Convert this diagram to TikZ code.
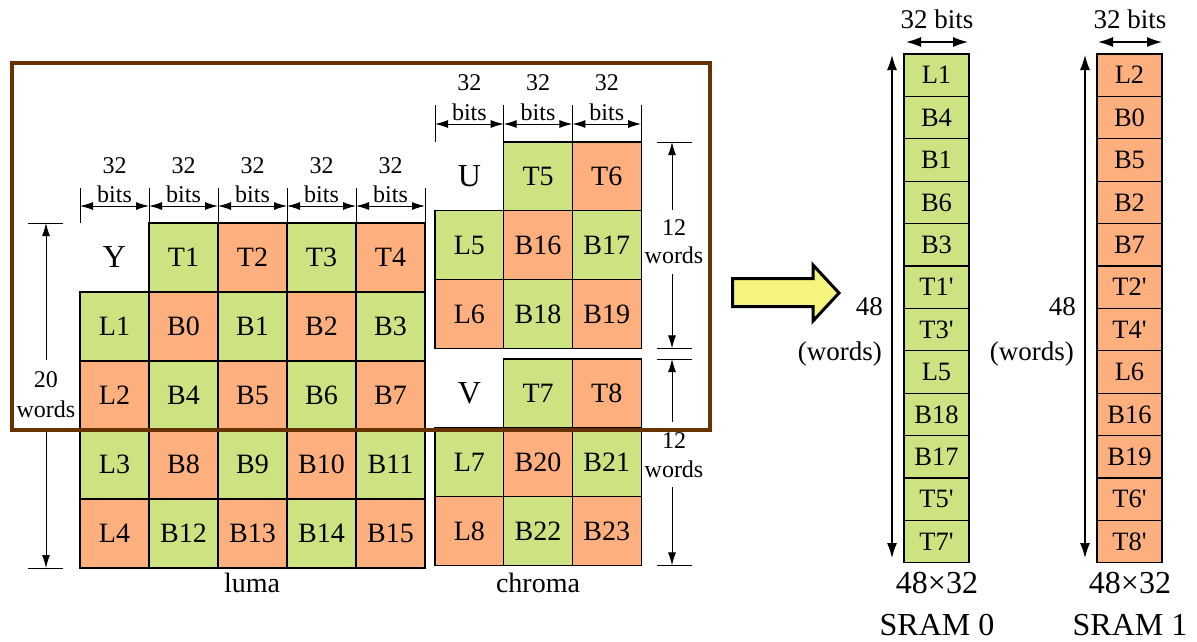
\documentclass[tikz,border=0pt]{standalone}
\usepackage{fontspec}
\setmainfont{Liberation Serif}[Ligatures=TeXOff]
\usetikzlibrary{arrows.meta}

\definecolor{cellgreen}{HTML}{CDE382}
\definecolor{cellorange}{HTML}{FDB07E}
\definecolor{framebrown}{HTML}{663300}
\definecolor{arrowyellow}{HTML}{F5F57D}

\newcommand{\fsz}[1]{\fontsize{#1}{#1}\selectfont}

\begin{document}
\begin{tikzpicture}[x=1pt, y=-1pt,
  cell/.style={draw=black, line width=1.2pt, inner sep=0pt,
    minimum width=68.9pt, minimum height=68.9pt, font=\fsz{28}},
  ccell/.style={cell, minimum width=68.7pt, minimum height=68.8pt},
  scell/.style={draw=black, line width=1.2pt, inner sep=0pt,
    minimum width=65pt, minimum height=42.4pt, font=\fsz{26.5}},
  plane/.style={inner sep=0pt, font=\fsz{32}},
  dimtxt/.style={inner sep=0pt, anchor=base, font=\fsz{24}},
  captxt/.style={inner sep=0pt, anchor=base, font=\fsz{28}},
  sramtxt/.style={inner sep=0pt, anchor=base, font=\fsz{32}},
  sramdim/.style={inner sep=0pt, font=\fsz{27}},
  tick/.style={line width=1pt},
  dimarrow/.style={line width=1pt, -{Latex[length=13pt,width=8pt]}},
  dimboth/.style={line width=1pt, {Latex[length=13pt,width=8pt]}-{Latex[length=13pt,width=8pt]}},
  bigboth/.style={line width=1.3pt, {Latex[length=15pt,width=10pt]}-{Latex[length=15pt,width=10pt]}},
]
\useasboundingbox (0,0) rectangle (1197,641);

% ---------------- luma block ----------------
\foreach \c/\r/\t/\f in {
  1/0/T1/cellgreen, 2/0/T2/cellorange, 3/0/T3/cellgreen, 4/0/T4/cellorange,
  0/1/L1/cellgreen, 1/1/B0/cellorange, 2/1/B1/cellgreen, 3/1/B2/cellorange, 4/1/B3/cellgreen,
  0/2/L2/cellorange, 1/2/B4/cellgreen, 2/2/B5/cellorange, 3/2/B6/cellgreen, 4/2/B7/cellorange,
  0/3/L3/cellgreen, 1/3/B8/cellorange, 2/3/B9/cellgreen, 3/3/B10/cellorange, 4/3/B11/cellgreen,
  0/4/L4/cellorange, 1/4/B12/cellgreen, 2/4/B13/cellorange, 3/4/B14/cellgreen, 4/4/B15/cellorange}
  \node[cell, fill=\f] (\t) at ({114.5+69*\c},{257.5+69*\r}) {\t};
\node[plane] (Y) at (114.5,257.5) {Y};

% column widths above the luma block
\foreach \i in {0,...,5} {
  \coordinate (lt\i) at ({80+69*\i},188);
  \coordinate (lb\i) at ({80+69*\i},223);
  \coordinate (la\i) at ({80+69*\i},206);
  \draw[tick] (lt\i) -- (lb\i);
}
\foreach \i [evaluate=\i as \j using int(\i+1)] in {0,...,4} {
  \draw[dimboth] (la\i) -- (la\j);
  \node[dimtxt] (l32\i) at ({114.5+69*\i},173) {32};
  \node[dimtxt] (lbits\i) at ({114.5+69*\i},202) {bits};
}

% luma height
\coordinate (lht0) at (28,223);  \coordinate (lht1) at (63,223);
\coordinate (lhb0) at (28,568);  \coordinate (lhb1) at (63,568);
\draw[tick] (lht0) -- (lht1);
\draw[tick] (lhb0) -- (lhb1);
\coordinate (lh1) at (46,360); \coordinate (lh2) at (46,223);
\coordinate (lh3) at (46,430); \coordinate (lh4) at (46,568);
\draw[dimarrow] (lh1) -- (lh2);
\draw[dimarrow] (lh3) -- (lh4);
\node[dimtxt] (l20) at (46,387) {20};
\node[dimtxt] (lwords) at (46,417) {words};
\node[captxt] (luma) at (252,592) {luma};

% ---------------- chroma blocks ----------------
\foreach \c/\r/\t/\f in {
  1/0/T5/cellgreen, 2/0/T6/cellorange,
  0/1/L5/cellgreen, 1/1/B16/cellorange, 2/1/B17/cellgreen,
  0/2/L6/cellorange, 1/2/B18/cellgreen, 2/2/B19/cellorange}
  \node[ccell, fill=\f] (\t) at ({469.35+68.7*\c},{176.4+68.8*\r}) {\t};
\node[plane] (U) at (469.35,176.4) {U};

\foreach \c/\r/\t/\f in {
  1/0/T7/cellgreen, 2/0/T8/cellorange,
  0/1/L7/cellgreen, 1/1/B20/cellorange, 2/1/B21/cellgreen,
  0/2/L8/cellorange, 1/2/B22/cellgreen, 2/2/B23/cellorange}
  \node[ccell, fill=\f] (\t) at ({469.35+68.7*\c},{393.4+68.8*\r}) {\t};
\node[plane] (V) at (469.35,393.4) {V};

% column widths above the chroma blocks
\foreach \i in {0,...,3} {
  \coordinate (ct\i) at ({435+68.7*\i},105);
  \coordinate (cb\i) at ({435+68.7*\i},142);
  \coordinate (ca\i) at ({435+68.7*\i},124);
  \draw[tick] (ct\i) -- (cb\i);
}
\foreach \i [evaluate=\i as \j using int(\i+1)] in {0,...,2} {
  \draw[dimboth] (ca\i) -- (ca\j);
  \node[dimtxt] (c32\i) at ({469.35+68.7*\i},90) {32};
  \node[dimtxt] (cbits\i) at ({469.35+68.7*\i},120) {bits};
}

% U height
\coordinate (uht0) at (657,142);   \coordinate (uht1) at (692,142);
\coordinate (uhb0) at (657,348.4); \coordinate (uhb1) at (692,348.4);
\draw[tick] (uht0) -- (uht1);
\draw[tick] (uhb0) -- (uhb1);
\coordinate (uh1) at (672,210); \coordinate (uh2) at (672,142);
\coordinate (uh3) at (672,274); \coordinate (uh4) at (672,348.4);
\draw[dimarrow] (uh1) -- (uh2);
\draw[dimarrow] (uh3) -- (uh4);
\node[dimtxt] (u12) at (674,235) {12};
\node[dimtxt] (uwords) at (674,263) {words};

% V height
\coordinate (vht0) at (657,359);   \coordinate (vht1) at (692,359);
\coordinate (vhb0) at (657,565.4); \coordinate (vhb1) at (692,565.4);
\draw[tick] (vht0) -- (vht1);
\draw[tick] (vhb0) -- (vhb1);
\coordinate (vh1) at (672,422); \coordinate (vh2) at (672,359);
\coordinate (vh3) at (672,487); \coordinate (vh4) at (672,565.4);
\draw[dimarrow] (vh1) -- (vh2);
\draw[dimarrow] (vh3) -- (vh4);
\node[dimtxt] (v12) at (674,448) {12};
\node[dimtxt] (vwords) at (674,477) {words};
\node[captxt] (chroma) at (538,592) {chroma};

% window of the current row
\draw[framebrown, line width=4pt] (12,63) rectangle (710,430);

% ---------------- mapping arrow ----------------
\draw[fill=arrowyellow, line width=3pt, line join=miter]
  (732.5,278.5) -- (813,278.5) -- (813,265) -- (839,293) -- (813,321)
  -- (813,306.5) -- (732.5,306.5) -- cycle;

% ---------------- SRAM 0 ----------------
\foreach \t [count=\i from 0] in {L1,B4,B1,B6,B3,T1',T3',L5,B18,B17,T5',T7'}
  \node[scell, fill=cellgreen] (s0-\i) at (936.5,{54+42.4*(\i+0.5)}) {\t};
\coordinate (s0l) at (906,42); \coordinate (s0r) at (968,42);
\draw[bigboth] (s0l) -- (s0r);
\node[sramdim, anchor=base] (s0bits) at (937,28) {32 bits};
\coordinate (s0u) at (892,55); \coordinate (s0d) at (892,558);
\draw[bigboth] (s0u) -- (s0d);
\node[sramdim, anchor=base east] (s048) at (883,315) {48};
\node[sramdim, anchor=base east] (s0words) at (882,360) {(words)};
\node[sramtxt] (s0size) at (937,593) {48×32};
\node[sramtxt] (s0name) at (937,635) {SRAM 0};

% ---------------- SRAM 1 ----------------
\foreach \t [count=\i from 0] in {L2,B0,B5,B2,B7,T2',T4',L6,B16,B19,T6',T8'}
  \node[scell, fill=cellorange] (s1-\i) at (1129.5,{54+42.4*(\i+0.5)}) {\t};
\coordinate (s1l) at (1098,42); \coordinate (s1r) at (1162,42);
\draw[bigboth] (s1l) -- (s1r);
\node[sramdim, anchor=base] (s1bits) at (1130,28) {32 bits};
\coordinate (s1u) at (1085,55); \coordinate (s1d) at (1085,558);
\draw[bigboth] (s1u) -- (s1d);
\node[sramdim, anchor=base east] (s148) at (1076,315) {48};
\node[sramdim, anchor=base east] (s1words) at (1074,360) {(words)};
\node[sramtxt] (s1size) at (1130,593) {48×32};
\node[sramtxt] (s1name) at (1130,635) {SRAM 1};

\end{tikzpicture}
\end{document}
